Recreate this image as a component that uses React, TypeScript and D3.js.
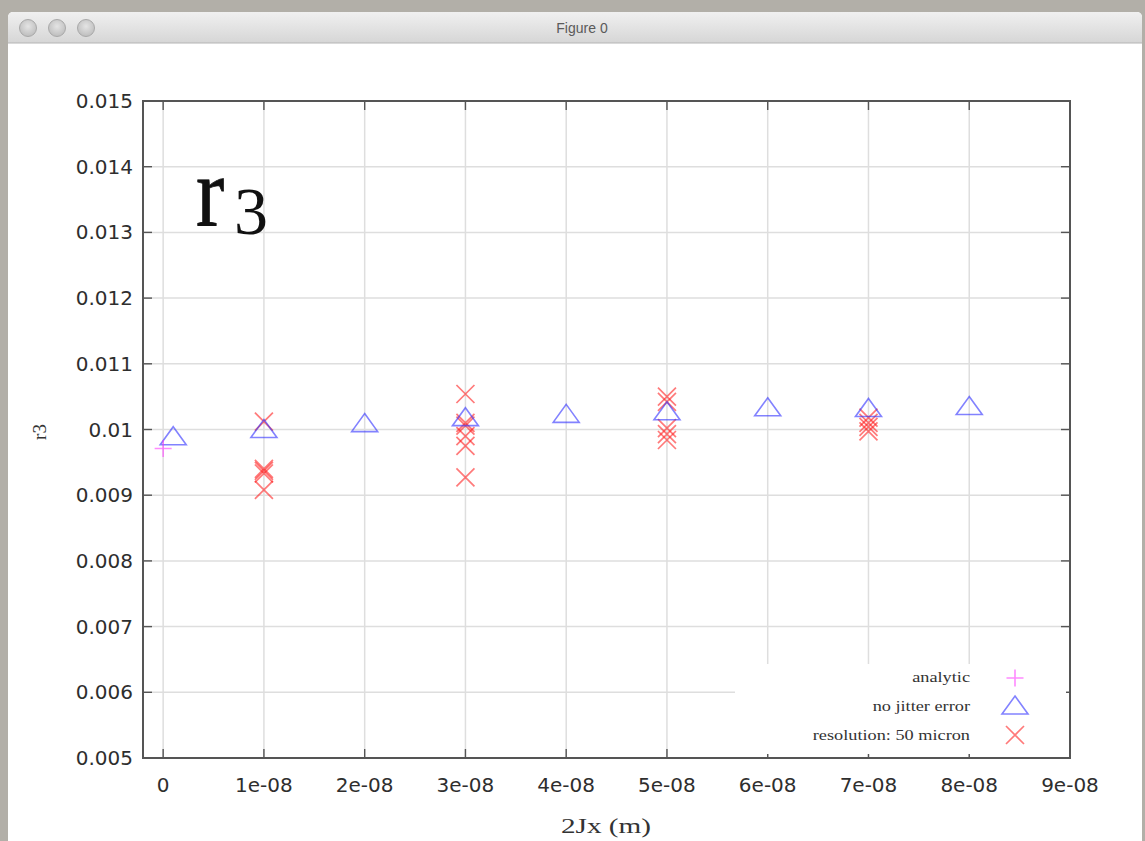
import React from "react";
import * as d3 from "d3";

// Axis ticks
const xTickValues = [0, 1e-8, 2e-8, 3e-8, 4e-8, 5e-8, 6e-8, 7e-8, 8e-8, 9e-8];
const xTickLabels = ["0", "1e-08", "2e-08", "3e-08", "4e-08", "5e-08", "6e-08", "7e-08", "8e-08", "9e-08"];
const yTickValues = [0.005, 0.006, 0.007, 0.008, 0.009, 0.01, 0.011, 0.012, 0.013, 0.014, 0.015];
const yTickLabels = ["0.005", "0.006", "0.007", "0.008", "0.009", "0.01", "0.011", "0.012", "0.013", "0.014", "0.015"];

// Series: analytic
const analyticX = [0];
const analyticY = [0.00971];

// Series: no jitter error
const noJitterX = [1e-9, 1e-8, 2e-8, 3e-8, 4e-8, 5e-8, 6e-8, 7e-8, 8e-8];
const noJitterY = [0.00989, 0.01, 0.01009, 0.01018, 0.01023, 0.01027, 0.01033, 0.01032, 0.01035];

// Series: resolution 50 micron
const resX = [
  1e-8, 1e-8, 1e-8, 1e-8, 1e-8,
  3e-8, 3e-8, 3e-8, 3e-8, 3e-8, 3e-8,
  5e-8, 5e-8, 5e-8, 5e-8, 5e-8,
  7e-8, 7e-8, 7e-8, 7e-8,
];
const resY = [
  0.01012, 0.0094, 0.00937, 0.00933, 0.00908,
  0.01054, 0.0101, 0.01006, 0.0099, 0.00975, 0.00927,
  0.0105, 0.01042, 0.01002, 0.00993, 0.00984,
  0.01018, 0.0101, 0.01004, 0.00997,
];

const legendLabels = ["analytic", "no jitter error", "resolution: 50 micron"];

const W = 1145;
const H = 841;
const plot = { left: 143, right: 1070, top: 101, bottom: 758 };

const x = d3.scaleLinear().domain([-2e-9, 9e-8]).range([plot.left, plot.right]);
const y = d3.scaleLinear().domain([0.005, 0.015]).range([plot.bottom, plot.top]);

const plusPath = (h: number) => `M${-h},0L${h},0M0,${-h}L0,${h}`;
const crossPath = (h: number) => `M${-h},${-h}L${h},${h}M${-h},${h}L${h},${-h}`;
const triPath = "M0,-10L13,8L-13,8Z";

const MAGENTA = "#ff3cff";
const BLUE = "#2f2fff";
const RED = "#ff1a1a";

const sans = "'DejaVu Sans', sans-serif";
const serif = "'Liberation Serif', 'Times New Roman', serif";

function Plus({ cx, cy }: { cx: number; cy: number }) {
  return (
    <path d={plusPath(8.5)} transform={`translate(${cx},${cy})`} stroke={MAGENTA} strokeOpacity={0.6} strokeWidth={1.6} fill="none" />
  );
}
function Tri({ cx, cy }: { cx: number; cy: number }) {
  return (
    <path d={triPath} transform={`translate(${cx},${cy})`} stroke={BLUE} strokeOpacity={0.6} strokeWidth={1.6} fill="none" />
  );
}
function Cross({ cx, cy }: { cx: number; cy: number }) {
  return (
    <path d={crossPath(9)} transform={`translate(${cx},${cy})`} stroke={RED} strokeOpacity={0.58} strokeWidth={1.7} fill="none" />
  );
}

export default function App() {
  const tickLen = 9;
  const legendRows = [682, 711, 740];
  return (
    <svg
      width={W}
      height={H}
      viewBox={`0 0 ${W} ${H}`}
      style={{ position: "fixed", left: 0, top: 0, display: "block" }}
    >
      <defs>
        <linearGradient id="titlebar" x1="0" y1="0" x2="0" y2="1">
          <stop offset="0" stopColor="#f0f0f0" />
          <stop offset="1" stopColor="#d6d6d6" />
        </linearGradient>
        <radialGradient id="light" cx="0.5" cy="0.4" r="0.6">
          <stop offset="0" stopColor="#e4e4e4" />
          <stop offset="1" stopColor="#bdbdbd" />
        </radialGradient>
      </defs>

      {/* desktop backdrop and window */}
      <rect x={0} y={0} width={W} height={H} fill="#b2afa8" />
      <rect x={8} y={12} width={1134} height={H} rx={5} fill="#ffffff" />
      <path d="M8,43V17a5,5 0 0 1 5,-5H1137a5,5 0 0 1 5,5V43Z" fill="url(#titlebar)" />
      <line x1={8} x2={1142} y1={43} y2={43} stroke="#b4b4b4" strokeWidth={1} />
      {[28, 57, 86].map((cx) => (
        <circle key={cx} cx={cx} cy={28} r={8.5} fill="url(#light)" stroke="#a9a9a9" strokeWidth={1} />
      ))}
      <text x={582} y={33} textAnchor="middle" fontFamily="'Liberation Sans', sans-serif" fontSize={14} fill="#5a5a5a">
        Figure 0
      </text>

      {/* grid */}
      <g stroke="#dedede" strokeWidth={1.5}>
        {xTickValues.map((v) => (
          <line key={`gx${v}`} x1={x(v)} x2={x(v)} y1={plot.top} y2={plot.bottom} />
        ))}
        {yTickValues.map((v) => (
          <line key={`gy${v}`} x1={plot.left} x2={plot.right} y1={y(v)} y2={y(v)} />
        ))}
      </g>

      {/* ticks on all four sides, pointing inward */}
      <g stroke="#555" strokeWidth={1.4}>
        {xTickValues.map((v) => (
          <g key={`tx${v}`}>
            <line x1={x(v)} x2={x(v)} y1={plot.bottom} y2={plot.bottom - tickLen} />
            <line x1={x(v)} x2={x(v)} y1={plot.top} y2={plot.top + tickLen} />
          </g>
        ))}
        {yTickValues.map((v) => (
          <g key={`ty${v}`}>
            <line x1={plot.left} x2={plot.left + tickLen} y1={y(v)} y2={y(v)} />
            <line x1={plot.right} x2={plot.right - tickLen} y1={y(v)} y2={y(v)} />
          </g>
        ))}
      </g>

      {/* legend background */}
      <rect x={735} y={664} width={331} height={90} fill="#ffffff" />

      {/* big annotation */}
      <text x={196} y={226} fontFamily={serif} fontSize={100} fill="#111" stroke="#111" strokeWidth={0.8} transform="translate(196,226) scale(0.85,1) translate(-196,-226)">
        r
      </text>
      <text x={234} y={234} fontFamily={serif} fontSize={68} fill="#111">
        3
      </text>

      {/* data */}
      {resX.map((v, i) => (
        <Cross key={`r${i}`} cx={x(v)} cy={y(resY[i])} />
      ))}
      {noJitterX.map((v, i) => (
        <Tri key={`t${i}`} cx={x(v)} cy={y(noJitterY[i])} />
      ))}
      {analyticX.map((v, i) => (
        <Plus key={`a${i}`} cx={x(v)} cy={y(analyticY[i])} />
      ))}

      {/* frame */}
      <rect x={plot.left} y={plot.top} width={plot.right - plot.left} height={plot.bottom - plot.top} fill="none" stroke="#555" strokeWidth={2} />

      {/* tick labels */}
      <g fontFamily={sans} fontSize={20} fill="#2e2e2e">
        {xTickValues.map((v, i) => (
          <text key={`lx${v}`} x={x(v)} y={792} textAnchor="middle">
            {xTickLabels[i]}
          </text>
        ))}
        {yTickValues.map((v, i) => (
          <text key={`ly${v}`} x={133} y={y(v) + 7} textAnchor="end">
            {yTickLabels[i]}
          </text>
        ))}
      </g>

      {/* axis titles */}
      <text x={606} y={833} textAnchor="middle" fontFamily={serif} fontSize={22} fill="#333" transform="translate(606,833) scale(1.33,1) translate(-606,-833)">
        2Jx (m)
      </text>
      <text transform="translate(46,432) rotate(-90)" textAnchor="middle" fontFamily={serif} fontSize={19} fill="#333">
        r3
      </text>

      {/* legend */}
      {legendLabels.map((lab, i) => (
        <text
          key={lab}
          x={970}
          y={legendRows[i]}
          textAnchor="end"
          fontFamily={serif}
          fontSize={14.5}
          fill="#333"
          transform={`translate(970,${legendRows[i]}) scale(1.26,1) translate(-970,${-legendRows[i]})`}
        >
          {lab}
        </text>
      ))}
      <Plus cx={1015} cy={678} />
      <Tri cx={1015} cy={706} />
      <Cross cx={1015} cy={735} />
    </svg>
  );
}
